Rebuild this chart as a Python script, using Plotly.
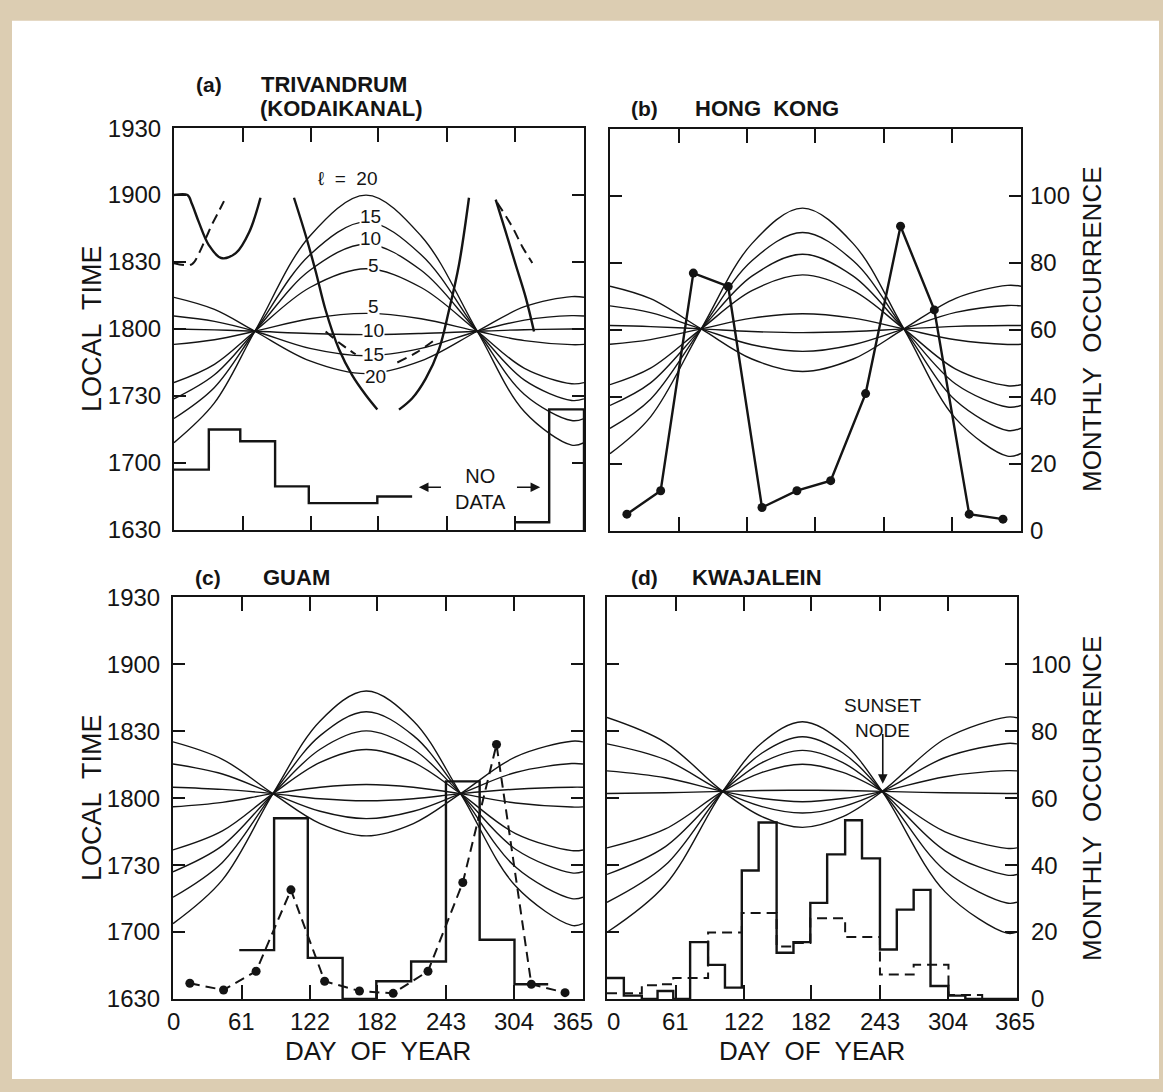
import plotly.graph_objects as go

W, H = 1163, 1092

DAY_TICKS = [0, 61, 122, 182, 243, 304, 365]
TIME_TICKS = [0, 30, 60, 90, 120, 150, 180]          # minutes after 16:30
TIME_LABELS = ["1630", "1700", "1730", "1800", "1830", "1900", "1930"]
OCC_TICKS = [0, 20, 40, 60, 80, 100]
OCC_LABELS = ["0", "20", "40", "60", "80", "100"]

# ---------------- theoretical sunset curves -------------
DAYS_A = [0, 36, 72, 121, 171, 220, 270, 312, 354, 365]
CURVES_A = [
    [39.1, 56.9, 89, 131.7, 150, 131.7, 89, 52.9, 38, 39.1],
    [49.9, 63.8, 89, 123.3, 138, 123.3, 89, 60.7, 49, 49.9],
    [58.7, 69.5, 89, 116.3, 128, 116.3, 89, 67.1, 58, 58.7],
    [66, 74.2, 89, 108.6, 117, 108.6, 89, 72.4, 65.5, 66],
    [104.2, 98.8, 89, 75.7, 70, 75.7, 89, 100, 104.5, 104.2],
    [95.8, 93.4, 89, 81.3, 78, 81.3, 89, 94, 96, 95.8],
    [90, 89.6, 89, 88, 87.5, 88, 89, 89.7, 90, 90],
    [83.1, 85.2, 89, 94.6, 97, 94.6, 89, 84.8, 83, 83.1],
]
DAYS_B = [0, 36, 81, 126, 171, 216, 261, 307, 353, 365]
CURVES_B = [
    [34.6, 51.1, 90.5, 128.7, 144.6, 128.7, 90.5, 50.3, 33.5, 34.7],
    [45.9, 59, 90.5, 121, 133.7, 121, 90.5, 58.4, 45, 46],
    [56.2, 66.3, 90.5, 114.1, 123.9, 114.1, 90.5, 65.8, 55.5, 56.2],
    [65.5, 72.9, 90.5, 107.6, 114.7, 107.6, 90.5, 72.5, 65, 65.5],
    [109.6, 104, 90.5, 77, 71.4, 77, 90.5, 104.2, 110, 109.6],
    [100.8, 97.8, 90.5, 83.4, 80.4, 83.4, 90.5, 97.9, 101, 100.8],
    [92, 91.5, 90.5, 89.3, 88.8, 89.3, 90.5, 91.6, 92, 92],
    [83.6, 85.7, 90.5, 95.3, 97.3, 95.3, 90.5, 85.6, 83.5, 83.6],
]
DAYS_C = [0, 44, 89, 131, 172, 214, 256, 305, 355, 365]
CURVES_C = [
    [33.8, 53.4, 92, 124.6, 138, 124.6, 92, 50.6, 33, 33.8],
    [45.6, 61.2, 92, 118, 128.7, 118, 92, 59.1, 45, 45.6],
    [57, 68.7, 92, 111.9, 120.1, 111.9, 92, 67.1, 56.5, 57],
    [66.8, 75.3, 92, 106, 111.8, 106, 92, 74.1, 66.5, 66.8],
    [115.2, 107.4, 92, 78.6, 73.1, 78.6, 92, 108.5, 115.5, 115.2],
    [105.3, 100.8, 92, 84.1, 80.8, 84.1, 92, 101.5, 105.5, 105.3],
    [94.9, 93.9, 92, 89.7, 88.8, 89.7, 92, 94, 94.9, 94.9],
    [86.1, 88.1, 92, 94.9, 96.1, 94.9, 92, 87.8, 86, 86.1],
]
DAYS_D = [0, 52, 103, 138, 174, 210, 245, 301, 356, 365]
CURVES_D = [
    [29.9, 51.2, 93, 114.8, 124.2, 114.8, 93, 48, 29.5, 30],
    [43.3, 60, 93, 110.2, 117.5, 110.2, 93, 57.5, 43, 43.4],
    [55.8, 68.3, 93, 105.9, 111.4, 105.9, 93, 66.4, 55.5, 55.8],
    [67.7, 76.2, 93, 101.5, 105.2, 101.5, 93, 74.9, 67.5, 67.7],
    [126.1, 114.9, 93, 81.7, 76.9, 81.7, 93, 116.6, 126.3, 126],
    [114.3, 107.2, 93, 86.2, 83.3, 86.2, 93, 108.2, 114.5, 114.3],
    [102.2, 99.1, 93, 89.8, 88.4, 89.8, 93, 99.6, 102.3, 102.2],
    [92.1, 92.4, 93, 93.4, 93.5, 93.4, 93, 92.4, 92.1, 92.1],
]

# ---------------- heavy curves in panel (a) ---------------------------------
A_H1_DAYS = [0, 12, 16, 22, 31, 42, 55, 67, 77]
A_H1_TIME = [150, 150, 146, 138, 127.6, 121.8, 124, 133.5, 148.8]
A_D1_DAYS = [0, 15.8, 22.3, 28.2, 34.1, 40.1, 44.5]
A_D1_TIME = [119.5, 119, 124, 130.5, 137.1, 142.9, 147.3]
A_UL_DAYS = [106.8, 117.2, 126.1, 135, 146.9, 158.7, 170.7, 181]
A_UL_TIME = [148.8, 132, 115.9, 98.4, 80.9, 69.2, 60.4, 53.9]
A_UR_DAYS = [200.3, 212.1, 224.1, 235.9, 244.8, 253.7, 262.6]
A_UR_TIME = [53.9, 59, 67.8, 80.9, 98.4, 118.8, 148.8]
A_H2_DAYS = [286.4, 295.3, 304.2, 313.1, 320.5]
A_H2_TIME = [148, 133.5, 118.8, 104.2, 88.9]
A_D2_DAYS = [287.8, 301.2, 310.1, 319]
A_D2_TIME = [146.6, 135.7, 126.9, 119.6]
A_D3_DAYS = [135, 148, 161.7]
A_D3_TIME = [88.9, 83.5, 78.7]
A_D4_DAYS = [198.8, 216, 234.4]
A_D4_TIME = [75, 79.5, 86]

# ---------------- monthly occurrence -----------------------------------------
MONTH_MID = [15, 45, 74, 105, 135, 166, 196, 227, 258, 288, 319, 349]
A_HIST_X1 = [0, 31, 59, 90, 120, 151, 181, 212]
A_HIST_Y1 = [18, 30, 26.5, 13, 8, 8, 10, 10]
A_HIST_X2 = [304, 334, 365, 365]
A_HIST_Y2 = [2.3, 36, 36, 0]
HK_OCC = [5, 12, 77, 73, 7, 12, 15, 41, 91, 66, 5, 3.5]
GUAM_HIST_X = [59, 90, 120, 151, 181, 212, 243, 273, 304, 334]
GUAM_HIST_Y = [14.6, 54, 12.3, 0, 5.3, 11.2, 65, 17.7, 4.4, 4.4]
GUAM_OCC = [4.7, 2.7, 8.3, 32.6, 5.3, 2.4, 1.7, 8.3, 34.8, 76, 4.4, 1.9]
HALF_EDGES = [0, 15, 31, 45, 59, 74, 90, 105, 120, 135, 151, 166, 181, 196,
              212, 227, 243, 258, 273, 288, 304, 319, 334, 349, 365]
KWAJ_SOLID = [6.3, 1, 0, 2.4, 0, 17, 10.2, 3.4, 38.4, 52.7, 13.8, 17, 28.7,
              43.2, 53.4, 42, 14.8, 26.7, 32.6, 3.9, 1, 0, 0, 0]
KWAJ_DASH = [1.7, 1.7, 4.1, 4.4, 6.3, 6.3, 19.9, 19.9, 25.7, 25.7, 15.7, 16.7,
             24.1, 24.1, 18.5, 18.5, 7.3, 7.3, 10.2, 10.2, 1.2, 1.2, 0, 0]

INK = "#141414"
FONT = "Liberation Sans, Arial, DejaVu Sans, sans-serif"

fig = go.Figure()

def add_curves(days, curves, xa, ya):
    for c in curves:
        fig.add_trace(go.Scatter(x=days, y=c, mode="lines", xaxis=xa, yaxis=ya,
                                 line=dict(color=INK, width=1.4, shape="spline",
                                           smoothing=1.0),
                                 showlegend=False, hoverinfo="skip"))

add_curves(DAYS_A, CURVES_A, "x", "y")
add_curves(DAYS_B, CURVES_B, "x2", "y2")
add_curves(DAYS_C, CURVES_C, "x3", "y3")
add_curves(DAYS_D, CURVES_D, "x4", "y4")

def heavy(xs, ys, xa, ya, dash="solid", shape="spline", width=2.4):
    fig.add_trace(go.Scatter(x=xs, y=ys, mode="lines", xaxis=xa, yaxis=ya,
                             line=dict(color=INK, width=width, shape=shape,
                                       dash=dash),
                             showlegend=False, hoverinfo="skip"))

heavy(A_H1_DAYS, A_H1_TIME, "x", "y")
heavy(A_D1_DAYS, A_D1_TIME, "x", "y", dash="10px,6px", width=2)
heavy(A_UL_DAYS, A_UL_TIME, "x", "y")
heavy(A_UR_DAYS, A_UR_TIME, "x", "y")
heavy(A_H2_DAYS, A_H2_TIME, "x", "y")
heavy(A_D2_DAYS, A_D2_TIME, "x", "y", dash="10px,6px", width=2)
heavy(A_D3_DAYS, A_D3_TIME, "x", "y", dash="10px,6px", width=2)
heavy(A_D4_DAYS, A_D4_TIME, "x", "y", dash="10px,6px", width=2)

heavy(A_HIST_X1, A_HIST_Y1, "x", "y5", shape="hv")
heavy(A_HIST_X2, A_HIST_Y2, "x", "y5", shape="hv")

fig.add_trace(go.Scatter(x=MONTH_MID, y=HK_OCC, mode="lines+markers",
                         xaxis="x2", yaxis="y6",
                         line=dict(color=INK, width=2.4),
                         marker=dict(color=INK, size=9),
                         showlegend=False, hoverinfo="skip"))

heavy(GUAM_HIST_X, GUAM_HIST_Y, "x3", "y7", shape="hv")
fig.add_trace(go.Scatter(x=MONTH_MID, y=GUAM_OCC, mode="lines+markers",
                         xaxis="x3", yaxis="y7",
                         line=dict(color=INK, width=2, dash="10px,6px"),
                         marker=dict(color=INK, size=9),
                         showlegend=False, hoverinfo="skip"))

heavy(HALF_EDGES, KWAJ_SOLID + [KWAJ_SOLID[-1]], "x4", "y8", shape="hv")
heavy(HALF_EDGES, KWAJ_DASH + [KWAJ_DASH[-1]], "x4", "y8", shape="hv",
      dash="10px,6px", width=2)

# ---------------- axes -------------------------------------------------------
dom_x = {1: [174 / W, 584 / W], 2: [610 / W, 1021 / W],
         3: [173 / W, 583 / W], 4: [607 / W, 1017 / W]}
dom_y = {1: [1 - 529 / H, 1 - 117 / H], 2: [1 - 530 / H, 1 - 118 / H],
         3: [1 - 1010 / H, 1 - 598 / H], 4: [1 - 1010 / H, 1 - 598 / H]}

tickfont = dict(family=FONT, size=24, color=INK)
lay = dict(width=W, height=H, margin=dict(l=0, r=0, t=0, b=0, pad=0),
           autosize=False, paper_bgcolor="#dccdb2",
           plot_bgcolor="rgba(0,0,0,0)", font=dict(family=FONT, color=INK))
for i in range(1, 5):
    s = "" if i == 1 else str(i)
    lay["xaxis" + s] = dict(domain=dom_x[i], range=[0, 365], anchor="y" + s,
                            tickvals=DAY_TICKS, showticklabels=False,
                            ticks="inside", ticklen=14,
                            tickwidth=1.5, tickcolor=INK, showline=True,
                            linecolor=INK, linewidth=2, mirror="ticks",
                            showgrid=False, zeroline=False, fixedrange=True)
    lay["yaxis" + s] = dict(domain=dom_y[i], range=[0, 180], anchor="x" + s,
                            tickvals=TIME_TICKS, ticktext=TIME_LABELS,
                            showticklabels=i in (1, 3), ticks="inside",
                            ticklen=12, tickwidth=1.5, tickcolor=INK,
                            showline=True, linecolor=INK, linewidth=2,
                            mirror="ticks", showgrid=False, zeroline=False,
                            tickfont=tickfont, ticklabelstandoff=6,
                            fixedrange=True)
    lay["yaxis" + str(i + 4)] = dict(overlaying="y" + s, anchor="x" + s,
                                     side="right", range=[0, 120],
                                     tickvals=OCC_TICKS, ticktext=OCC_LABELS,
                                     showticklabels=i in (2, 4), ticks="",
                                     showline=False, showgrid=False,
                                     zeroline=False, tickfont=tickfont,
                                     ticklabelstandoff=8 if i == 2 else 13,
                                     fixedrange=True)
fig.update_layout(**lay)

# white page
fig.add_shape(type="rect", xref="paper", yref="paper", x0=12 / W, x1=1159 / W,
              y0=0, y1=1 - 7 / H, fillcolor="white", line=dict(width=0),
              layer="below")

def P(px, py):
    return px / W, 1 - py / H

ann = []
def text(px, py, t, size=22, xanchor="left", angle=0, bold=False):
    x, y = P(px, py)
    ann.append(dict(x=x, y=y, xref="paper", yref="paper",
                    text=("<b>%s</b>" % t) if bold else t,
                    showarrow=False, xanchor=xanchor, yanchor="middle",
                    textangle=angle, font=dict(family=FONT, size=size, color=INK)))

# titles
text(194, 72, "(a)", 21, bold=True)
text(259, 72, "TRIVANDRUM", 22, bold=True)
text(258, 97, "(KODAIKANAL)", 22, bold=True)
text(629, 97, "(b)", 21, bold=True)
text(693, 97, "HONG  KONG", 22, bold=True)
text(193, 578, "(c)", 21, bold=True)
text(261, 578, "GUAM", 22, bold=True)
text(629, 578, "(d)", 21, bold=True)
text(690, 578, "KWAJALEIN", 22, bold=True)

# axis titles
for cy in (323, 804):
    text(92, cy, "LOCAL  TIME", 27, xanchor="center", angle=-90)
    text(1092, cy, "MONTHLY  OCCURRENCE", 26, xanchor="center", angle=-90)
for cx in (378, 812):
    text(cx, 1063, "DAY  OF  YEAR", 26, xanchor="center")

# bottom day tick labels
shifts = {("x3", 365): -10, ("x4", 0): 6, ("x4", 365): -2}
for xa in ("x3", "x4"):
    for d in DAY_TICKS:
        ann.append(dict(x=d, y=1 - 1033 / H, xref=xa, yref="paper", text=str(d),
                        showarrow=False, xanchor="center", yanchor="middle",
                        xshift=shifts.get((xa, d), 0),
                        font=dict(family=FONT, size=24, color=INK)))

# curve labels in (a)
def dlab(x, y, t, size=18, xa="x", ya="y"):
    ann.append(dict(x=x, y=y, xref=xa, yref=ya, text=t, showarrow=False,
                    bgcolor="white", borderpad=0,
                    font=dict(family=FONT, size=size, color=INK)))

dlab(155, 157.5, "\u2113  =  20", 19)
dlab(175, 140.5, "15", 19)
dlab(175, 130.5, "10", 19)
dlab(178, 118.5, "5", 19)
dlab(178, 100.3, "5", 19)
dlab(178, 89.3, "10", 19)
dlab(178, 78.6, "15", 19)
dlab(179, 68.8, "20", 19)

# NO DATA
ann.append(dict(x=273, y=18.4, xref="x", yref="y", text="NO<br>DATA",
                showarrow=False, font=dict(family=FONT, size=20, color=INK)))
for tail, head in ((239, 218), (304, 326)):
    ann.append(dict(x=head, y=19.1, ax=tail, ay=19.1, xref="x", yref="y",
                    axref="x", ayref="y", text="", showarrow=True,
                    arrowhead=2, arrowsize=1.2, arrowwidth=1.6, arrowcolor=INK))

# SUNSET NODE
ann.append(dict(x=245.5, y=126, xref="x4", yref="y4", text="SUNSET<br>NODE",
                showarrow=False, font=dict(family=FONT, size=19, color=INK)))
ann.append(dict(x=245.5, y=96.4, ax=245.5, ay=119.4, xref="x4", yref="y4",
                axref="x4", ayref="y4", text="", showarrow=True, arrowhead=2,
                arrowsize=1.2, arrowwidth=1.6, arrowcolor=INK))

fig.update_layout(annotations=ann)
fig.write_html("out.html",
               post_script="document.body.style.margin='0';"
                           "document.body.style.overflow='hidden';")
